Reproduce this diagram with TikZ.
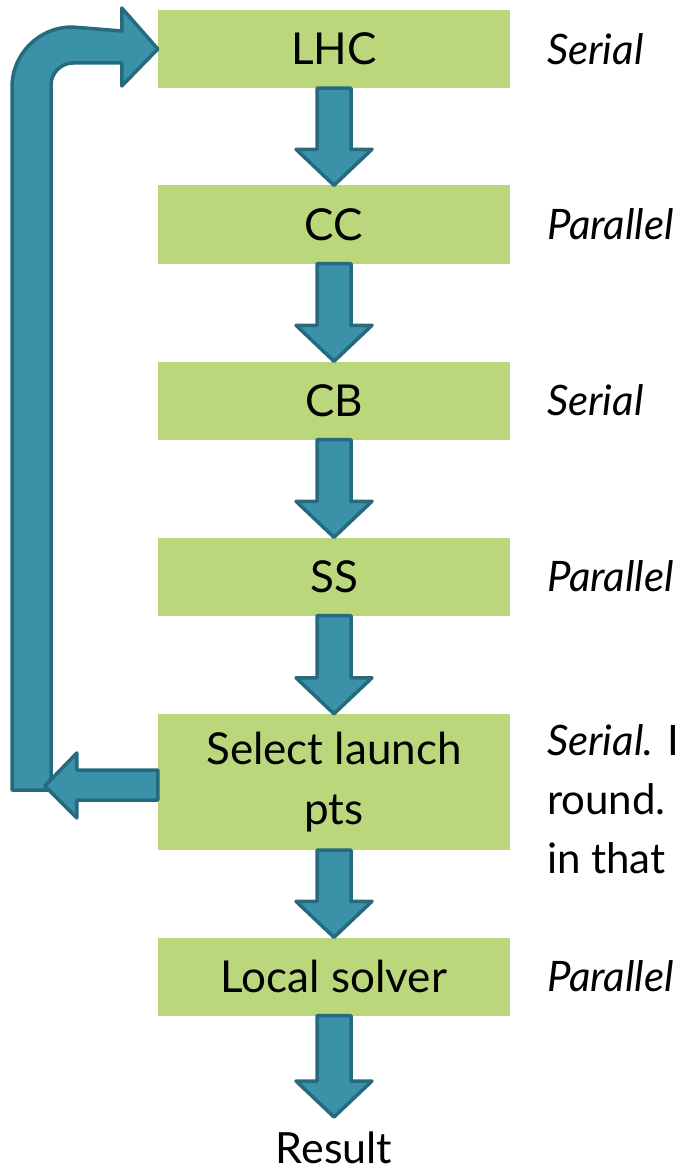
\documentclass[tikz,border=0pt]{standalone}
\usepackage{fontspec}
\setmainfont{Lato}
\usetikzlibrary{calc}

\definecolor{boxgreen}{HTML}{BBD77C}
\definecolor{arrfill}{HTML}{3A91A8}
\definecolor{arrdraw}{HTML}{256B7D}

\tikzset{
  stagebox/.style={fill=boxgreen, minimum width=352pt, minimum height=78pt,
    inner sep=0pt, align=center, font=\fontsize{44}{60}\selectfont},
  modelabel/.style={anchor=west, inner sep=0pt, align=left,
    font=\fontsize{42}{59}\selectfont\itshape},
  blockarr/.style={fill=arrfill, draw=arrdraw, line width=3.5pt, line join=round}
}

% block arrow from the bottom of one stage to the top of the next
\newcommand{\flowarrow}[2]{%
  \draw[blockarr] ($(#1.south)+(-17,0)$) -- ($(#2)+(-17,-36)$) -- ($(#2)+(-38,-36)$)
    -- (#2) -- ($(#2)+(38,-36)$) -- ($(#2)+(17,-36)$) -- ($(#1.south)+(17,0)$) -- cycle;}

\begin{document}
\begin{tikzpicture}[x=1pt, y=-1pt]
\useasboundingbox (0,0) rectangle (676,1174);

% stages
\node[stagebox] (lhc) at (334,49) {LHC};
\node[stagebox] (cc) at (334,224.5) {CC};
\node[stagebox] (cb) at (334,400.5) {CB};
\node[stagebox] (ss) at (334,576.5) {SS};
\node[stagebox, minimum height=136pt] (sel) at (334,782) {Select launch\\pts};
\node[stagebox] (loc) at (334,976.5) {Local solver};
\node[inner sep=0pt, font=\fontsize{43}{60}\selectfont] (res) at (334,1148) {Result};
\coordinate (resend) at (334,1117);

% modes
\node[modelabel] (mlhc) at (547,49) {Serial};
\node[modelabel] (mcc) at (547,224.5) {Parallel};
\node[modelabel] (mcb) at (547,400.5) {Serial};
\node[modelabel] (mss) at (547,576.5) {Parallel};
\node[modelabel, font=\fontsize{42}{59}\selectfont] (msel) at (547,799) {\textit{Serial.} I\\round.\\in that};
\node[modelabel] (mloc) at (547,976.5) {Parallel};

% flow
\flowarrow{lhc}{cc.north}
\flowarrow{cc}{cb.north}
\flowarrow{cb}{ss.north}
\flowarrow{ss}{sel.north}
\flowarrow{sel}{loc.north}
\flowarrow{loc}{resend}

% loop back
\coordinate (lpbot) at (12,790);
\draw[blockarr] (lpbot) -- (12,87) .. controls (12,54) and (39,27) .. (72,27)
  -- ($(lhc.west)+(-36,-18)$) -- ($(lhc.west)+(-36,-41)$) -- (lhc.west)
  -- ($(lhc.west)+(-36,37)$) -- ($(lhc.west)+(-36,14)$) -- (73,63)
  .. controls (61,63) and (51,73) .. (51,85) -- (51,790) -- cycle;
\draw[blockarr] (sel.west) ++(0,-12) -- ($(sel.west)+(-81,-12)$) -- ($(sel.west)+(-81,-29)$)
  -- ($(sel.west)+(-113,4)$) -- ($(sel.west)+(-81,36)$) -- ($(sel.west)+(-81,18)$)
  -- ($(sel.west)+(0,18)$) -- cycle;
\end{tikzpicture}
\end{document}
